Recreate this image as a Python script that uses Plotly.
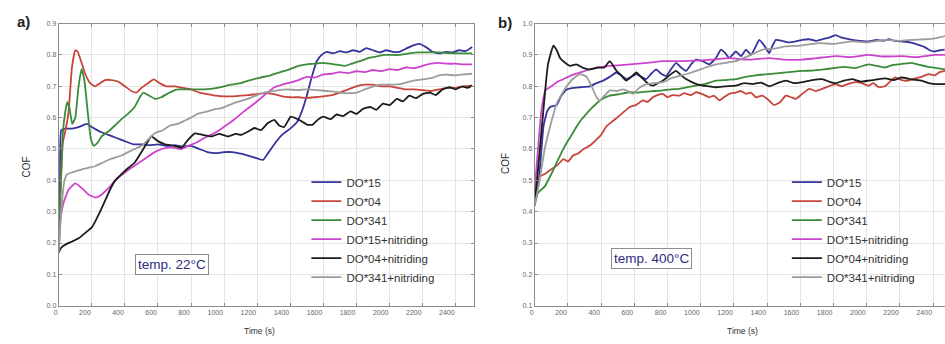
import plotly.graph_objects as go

W, H = 945, 344

# ---------------- Panel a) temp. 22°C ----------------
A_DO15_T = [0, 8, 15, 40, 80, 120, 170, 200, 250, 300, 350, 400, 450, 500, 550, 600, 650, 700, 750, 800, 850, 900, 950, 1000, 1050, 1100, 1150, 1200, 1235, 1270, 1310, 1350, 1400, 1440, 1470, 1500, 1530, 1560, 1590, 1620, 1660, 1700, 1740, 1780, 1820, 1860, 1900, 1940, 1980, 2020, 2060, 2100, 2140, 2180, 2220, 2260, 2300, 2340, 2380, 2420, 2460, 2500]
A_DO15_V = [0.17, 0.40, 0.56, 0.565, 0.565, 0.57, 0.58, 0.57, 0.555, 0.545, 0.535, 0.525, 0.515, 0.515, 0.512, 0.515, 0.51, 0.512, 0.508, 0.51, 0.50, 0.49, 0.487, 0.49, 0.49, 0.485, 0.478, 0.47, 0.465, 0.49, 0.52, 0.545, 0.565, 0.585, 0.62, 0.67, 0.73, 0.78, 0.80, 0.81, 0.805, 0.812, 0.808, 0.815, 0.81, 0.822, 0.815, 0.808, 0.815, 0.81, 0.81, 0.82, 0.83, 0.835, 0.825, 0.81, 0.805, 0.81, 0.808, 0.815, 0.812, 0.825]

A_DO04_T = [0, 10, 25, 45, 60, 80, 100, 115, 135, 160, 190, 220, 250, 280, 320, 360, 400, 440, 470, 500, 540, 575, 610, 650, 700, 750, 800, 850, 900, 950, 1000, 1050, 1100, 1150, 1200, 1250, 1300, 1350, 1400, 1450, 1500, 1550, 1600, 1650, 1700, 1750, 1800, 1850, 1900, 1950, 2000, 2050, 2100, 2150, 2200, 2250, 2300, 2350, 2400, 2450, 2500]
A_DO04_V = [0.17, 0.35, 0.52, 0.57, 0.62, 0.76, 0.815, 0.81, 0.78, 0.74, 0.71, 0.70, 0.71, 0.72, 0.72, 0.715, 0.70, 0.685, 0.68, 0.695, 0.71, 0.722, 0.71, 0.70, 0.70, 0.695, 0.69, 0.68, 0.675, 0.67, 0.668, 0.668, 0.67, 0.672, 0.675, 0.678, 0.675, 0.668, 0.665, 0.665, 0.663, 0.665, 0.668, 0.672, 0.68, 0.69, 0.70, 0.705, 0.705, 0.70, 0.70, 0.695, 0.69, 0.69, 0.688, 0.685, 0.69, 0.695, 0.695, 0.70, 0.702]

A_DO341_T = [0, 10, 25, 40, 52, 65, 82, 100, 120, 138, 155, 175, 195, 212, 235, 260, 300, 340, 380, 420, 460, 490, 511, 540, 583, 620, 670, 720, 800, 880, 960, 1040, 1100, 1160, 1220, 1280, 1340, 1400, 1450, 1500, 1550, 1590, 1640, 1690, 1730, 1770, 1820, 1870, 1920, 1970, 2010, 2060, 2120, 2180, 2240, 2300, 2360, 2420, 2500]
A_DO341_V = [0.17, 0.35, 0.55, 0.62, 0.65, 0.63, 0.58, 0.60, 0.70, 0.755, 0.72, 0.62, 0.53, 0.51, 0.52, 0.54, 0.556, 0.575, 0.595, 0.613, 0.635, 0.665, 0.68, 0.672, 0.66, 0.665, 0.68, 0.69, 0.69, 0.69, 0.695, 0.705, 0.71, 0.72, 0.728, 0.735, 0.745, 0.755, 0.765, 0.77, 0.772, 0.775, 0.772, 0.768, 0.765, 0.772, 0.78, 0.79, 0.795, 0.80, 0.80, 0.80, 0.805, 0.808, 0.808, 0.808, 0.806, 0.805, 0.805]

A_DO15N_T = [0, 10, 30, 60, 100, 140, 180, 222, 260, 300, 342, 400, 440, 482, 530, 580, 623, 680, 740, 783, 830, 880, 923, 970, 1020, 1063, 1120, 1183, 1240, 1303, 1350, 1400, 1450, 1500, 1550, 1600, 1650, 1700, 1750, 1800, 1850, 1900, 1950, 2000, 2050, 2100, 2150, 2200, 2250, 2300, 2350, 2400, 2450, 2500]
A_DO15N_V = [0.17, 0.27, 0.33, 0.37, 0.39, 0.375, 0.355, 0.345, 0.355, 0.375, 0.40, 0.425, 0.44, 0.455, 0.472, 0.49, 0.50, 0.505, 0.50, 0.51, 0.52, 0.535, 0.546, 0.56, 0.578, 0.595, 0.62, 0.645, 0.67, 0.697, 0.705, 0.712, 0.72, 0.73, 0.728, 0.738, 0.74, 0.745, 0.742, 0.748, 0.745, 0.752, 0.748, 0.755, 0.752, 0.76, 0.758, 0.765, 0.772, 0.775, 0.772, 0.772, 0.77, 0.77]

A_DO04N_T = [0, 15, 40, 82, 120, 162, 200, 222, 250, 282, 310, 342, 380, 422, 460, 500, 540, 560, 600, 643, 700, 743, 783, 823, 870, 923, 970, 1023, 1070, 1103, 1143, 1183, 1223, 1263, 1303, 1333, 1363, 1403, 1433, 1463, 1500, 1533, 1570, 1600, 1644, 1680, 1720, 1764, 1800, 1840, 1884, 1920, 1960, 2000, 2044, 2080, 2120, 2160, 2200, 2244, 2280, 2320, 2364, 2400, 2440, 2470, 2500]
A_DO04N_V = [0.17, 0.185, 0.195, 0.205, 0.215, 0.233, 0.25, 0.27, 0.30, 0.337, 0.37, 0.40, 0.42, 0.44, 0.457, 0.49, 0.525, 0.54, 0.525, 0.515, 0.51, 0.504, 0.53, 0.55, 0.545, 0.54, 0.548, 0.54, 0.548, 0.545, 0.555, 0.567, 0.56, 0.582, 0.593, 0.575, 0.57, 0.603, 0.598, 0.59, 0.578, 0.577, 0.595, 0.603, 0.595, 0.61, 0.605, 0.62, 0.612, 0.628, 0.634, 0.625, 0.645, 0.64, 0.66, 0.652, 0.67, 0.662, 0.675, 0.68, 0.672, 0.69, 0.697, 0.69, 0.70, 0.695, 0.702]

A_DO341N_T = [0, 15, 35, 52, 80, 110, 140, 180, 220, 260, 300, 342, 383, 420, 460, 500, 540, 583, 630, 673, 720, 760, 800, 843, 900, 950, 983, 1030, 1080, 1143, 1200, 1243, 1283, 1323, 1380, 1440, 1500, 1560, 1620, 1680, 1740, 1802, 1850, 1904, 1950, 2000, 2064, 2100, 2144, 2200, 2264, 2300, 2344, 2400, 2450, 2500]
A_DO341N_V = [0.17, 0.30, 0.40, 0.42, 0.425, 0.43, 0.435, 0.44, 0.445, 0.455, 0.465, 0.473, 0.48, 0.49, 0.50, 0.51, 0.53, 0.551, 0.56, 0.575, 0.58, 0.59, 0.60, 0.613, 0.62, 0.628, 0.63, 0.64, 0.65, 0.66, 0.672, 0.68, 0.684, 0.687, 0.69, 0.688, 0.69, 0.688, 0.685, 0.682, 0.678, 0.68, 0.69, 0.70, 0.705, 0.705, 0.707, 0.712, 0.718, 0.722, 0.728, 0.735, 0.737, 0.735, 0.738, 0.74]

# ---------------- Panel b) temp. 400°C ----------------
B_DO15_T = [0, 25, 53, 75, 93, 133, 160, 193, 233, 273, 333, 372, 412, 452, 492, 522, 552, 582, 612, 642, 672, 702, 732, 762, 792, 822, 852, 882, 912, 942, 972, 1012, 1052, 1092, 1122, 1150, 1172, 1212, 1243, 1273, 1303, 1330, 1353, 1383, 1413, 1433, 1453, 1490, 1530, 1573, 1613, 1653, 1693, 1733, 1773, 1812, 1850, 1913, 1960, 2013, 2060, 2100, 2133, 2170, 2212, 2260, 2312, 2350, 2380, 2412, 2440, 2470]
B_DO15_V = [0.43, 0.5, 0.672, 0.72, 0.734, 0.74, 0.77, 0.79, 0.795, 0.797, 0.80, 0.81, 0.818, 0.83, 0.844, 0.835, 0.823, 0.83, 0.839, 0.83, 0.823, 0.84, 0.854, 0.84, 0.833, 0.855, 0.875, 0.86, 0.849, 0.87, 0.885, 0.88, 0.87, 0.89, 0.917, 0.905, 0.89, 0.911, 0.896, 0.917, 0.90, 0.925, 0.948, 0.93, 0.906, 0.93, 0.948, 0.945, 0.94, 0.943, 0.948, 0.95, 0.945, 0.95, 0.955, 0.963, 0.955, 0.948, 0.945, 0.943, 0.948, 0.945, 0.95, 0.945, 0.943, 0.94, 0.932, 0.925, 0.915, 0.911, 0.915, 0.917]

B_DO04_T = [0, 10, 25, 60, 100, 140, 173, 200, 233, 260, 292, 330, 372, 400, 432, 460, 492, 530, 572, 610, 652, 680, 712, 740, 772, 800, 830, 872, 900, 940, 972, 1010, 1052, 1080, 1112, 1140, 1172, 1212, 1243, 1273, 1303, 1333, 1370, 1400, 1443, 1480, 1513, 1545, 1573, 1610, 1653, 1693, 1733, 1770, 1812, 1850, 1890, 1933, 1970, 2013, 2040, 2073, 2110, 2140, 2172, 2210, 2252, 2290, 2330, 2372, 2410, 2440, 2472]
B_DO04_V = [0.44, 0.49, 0.51, 0.52, 0.535, 0.55, 0.568, 0.56, 0.58, 0.585, 0.599, 0.61, 0.63, 0.645, 0.672, 0.685, 0.698, 0.715, 0.734, 0.74, 0.755, 0.75, 0.765, 0.772, 0.776, 0.765, 0.772, 0.77, 0.778, 0.772, 0.781, 0.775, 0.765, 0.77, 0.755, 0.765, 0.776, 0.78, 0.785, 0.776, 0.78, 0.765, 0.77, 0.76, 0.74, 0.75, 0.77, 0.765, 0.76, 0.775, 0.792, 0.785, 0.792, 0.80, 0.807, 0.80, 0.808, 0.813, 0.81, 0.802, 0.81, 0.797, 0.80, 0.815, 0.828, 0.82, 0.818, 0.825, 0.83, 0.839, 0.835, 0.845, 0.849]

B_DO341_T = [0, 20, 60, 100, 133, 163, 193, 223, 253, 283, 313, 343, 372, 410, 452, 510, 572, 620, 672, 720, 772, 820, 872, 920, 972, 1030, 1092, 1150, 1212, 1270, 1330, 1413, 1470, 1530, 1613, 1670, 1730, 1812, 1870, 1930, 2013, 2060, 2110, 2160, 2220, 2273, 2320, 2370, 2412, 2472]
B_DO341_V = [0.42, 0.46, 0.48, 0.52, 0.557, 0.59, 0.62, 0.645, 0.672, 0.695, 0.713, 0.73, 0.745, 0.76, 0.77, 0.775, 0.781, 0.78, 0.783, 0.785, 0.787, 0.79, 0.792, 0.797, 0.802, 0.808, 0.818, 0.82, 0.823, 0.83, 0.835, 0.839, 0.842, 0.845, 0.849, 0.85, 0.853, 0.859, 0.862, 0.858, 0.87, 0.865, 0.86, 0.868, 0.872, 0.875, 0.868, 0.862, 0.859, 0.854]

B_DO15N_T = [0, 20, 40, 65, 100, 140, 173, 220, 273, 320, 372, 450, 572, 680, 772, 870, 972, 1070, 1171, 1213, 1300, 1413, 1500, 1613, 1700, 1812, 1900, 2012, 2100, 2212, 2300, 2412, 2472]
B_DO15N_V = [0.47, 0.6, 0.72, 0.787, 0.80, 0.815, 0.823, 0.835, 0.844, 0.852, 0.859, 0.865, 0.87, 0.875, 0.88, 0.88, 0.882, 0.885, 0.89, 0.888, 0.885, 0.89, 0.885, 0.885, 0.89, 0.896, 0.893, 0.90, 0.895, 0.896, 0.893, 0.90, 0.90]

B_DO04N_T = [0, 40, 80, 113, 133, 153, 183, 213, 250, 292, 333, 380, 420, 452, 492, 520, 552, 582, 612, 650, 680, 712, 742, 772, 812, 852, 882, 912, 960, 1011, 1050, 1092, 1150, 1211, 1263, 1313, 1363, 1413, 1463, 1513, 1563, 1613, 1673, 1733, 1773, 1813, 1863, 1913, 1963, 2013, 2063, 2113, 2163, 2212, 2272, 2332, 2372, 2412, 2472]
B_DO04N_V = [0.42, 0.65, 0.87, 0.93, 0.915, 0.89, 0.875, 0.865, 0.87, 0.859, 0.854, 0.86, 0.86, 0.88, 0.85, 0.835, 0.818, 0.83, 0.844, 0.825, 0.81, 0.802, 0.81, 0.818, 0.835, 0.849, 0.835, 0.823, 0.81, 0.802, 0.80, 0.797, 0.80, 0.802, 0.81, 0.807, 0.812, 0.80, 0.81, 0.818, 0.81, 0.813, 0.82, 0.823, 0.815, 0.81, 0.818, 0.823, 0.815, 0.818, 0.822, 0.825, 0.82, 0.828, 0.822, 0.818, 0.81, 0.807, 0.807]

B_DO341N_T = [0, 30, 60, 93, 133, 163, 193, 233, 273, 313, 343, 372, 392, 420, 452, 492, 532, 562, 592, 630, 672, 720, 772, 820, 872, 920, 972, 1030, 1092, 1150, 1212, 1280, 1373, 1440, 1513, 1600, 1713, 1800, 1913, 2000, 2113, 2200, 2273, 2350, 2412, 2472]
B_DO341N_V = [0.42, 0.5, 0.6, 0.672, 0.745, 0.775, 0.80, 0.825, 0.839, 0.83, 0.80, 0.766, 0.755, 0.77, 0.787, 0.785, 0.79, 0.785, 0.776, 0.795, 0.807, 0.81, 0.813, 0.825, 0.833, 0.84, 0.849, 0.86, 0.87, 0.875, 0.88, 0.895, 0.917, 0.92, 0.927, 0.93, 0.938, 0.935, 0.943, 0.94, 0.948, 0.945, 0.948, 0.95, 0.953, 0.96]

NAMES = ["DO*15", "DO*04", "DO*341", "DO*15+nitriding", "DO*04+nitriding", "DO*341+nitriding"]
COLORS = ["#34349c", "#c8453c", "#3a8c3a", "#cc44cc", "#1c1c1c", "#9c9c9c"]
X_TICKS = [0, 200, 400, 600, 800, 1000, 1200, 1400, 1600, 1800, 2000, 2200, 2400]
A_Y_TICKS = [0.0, 0.1, 0.2, 0.3, 0.4, 0.5, 0.6, 0.7, 0.8, 0.9]
B_Y_TICKS = [0.1, 0.2, 0.3, 0.4, 0.5, 0.6, 0.7, 0.8, 0.9, 1.0]

A_SERIES = [(A_DO15_T, A_DO15_V), (A_DO04_T, A_DO04_V), (A_DO341_T, A_DO341_V),
            (A_DO15N_T, A_DO15N_V), (A_DO04N_T, A_DO04N_V), (A_DO341N_T, A_DO341N_V)]
B_SERIES = [(B_DO15_T, B_DO15_V), (B_DO04_T, B_DO04_V), (B_DO341_T, B_DO341_V),
            (B_DO15N_T, B_DO15N_V), (B_DO04N_T, B_DO04N_V), (B_DO341N_T, B_DO341N_V)]

fig = go.Figure()
for i, (t, v) in enumerate(A_SERIES):
    fig.add_trace(go.Scatter(x=t, y=v, mode="lines", name=NAMES[i], xaxis="x", yaxis="y",
                             line=dict(color=COLORS[i], width=1.8, shape="spline", smoothing=0.4),
                             legend="legend"))
for i, (t, v) in enumerate(B_SERIES):
    fig.add_trace(go.Scatter(x=t, y=v, mode="lines", name=NAMES[i], xaxis="x2", yaxis="y2",
                             line=dict(color=COLORS[i], width=1.8, shape="spline", smoothing=0.4),
                             legend="legend2"))

FONT = "Arial, Liberation Sans, sans-serif"
ydom = [1 - 308 / H, 1 - 20 / H]
axis_common = dict(showgrid=True, gridcolor="#e4e4e4", gridwidth=1, showline=True,
                   linecolor="#8c8c8c", linewidth=1, ticks="inside", ticklen=3,
                   tickcolor="#8c8c8c", tickfont=dict(family=FONT, size=7, color="#666666"),
                   zeroline=False)

legend_common = dict(xanchor="left", yanchor="top", bgcolor="rgba(0,0,0,0)",
                     font=dict(family=FONT, size=11.5, color="#333333"), itemwidth=30)

fig.update_layout(
    width=W, height=H, margin=dict(l=0, r=0, t=0, b=0),
    paper_bgcolor="white", plot_bgcolor="white",
    xaxis=dict(domain=[54 / W, 471 / W], range=[0, 2508], tickvals=X_TICKS,
               mirror="ticks", anchor="y", ticklabelposition="outside left", **axis_common),
    yaxis=dict(domain=ydom, range=[0, 0.9], tickvals=A_Y_TICKS, tickformat=".1f",
               mirror="ticks", anchor="x", **axis_common),
    xaxis2=dict(domain=[532.5 / W, 1.0], range=[0, 2472], tickvals=X_TICKS,
                mirror="ticks", anchor="y2", ticklabelposition="outside left", **axis_common),
    yaxis2=dict(domain=ydom, range=[0.1, 1.0], tickvals=B_Y_TICKS, tickformat=".1f",
                anchor="x2", **axis_common),
    legend=dict(x=303 / W, y=1 - 167 / H, **legend_common),
    legend2=dict(x=786 / W, y=1 - 167 / H, **legend_common),
)

def ann(text, x, y, size, color="#222222", bold=False, angle=0, **kw):
    fig.add_annotation(text=("<b>%s</b>" % text) if bold else text, x=x / W, y=1 - y / H,
                       xref="paper", yref="paper", showarrow=False, textangle=angle,
                       font=dict(family=FONT, size=size, color=color),
                       xanchor="center", yanchor="middle", **kw)

ann("a)", 19, 18, 15, bold=True)
ann("b)", 503, 19, 15, bold=True)
ann("COF", 22, 166, 10, color="#333333", angle=-90)
ann("COF", 503, 163, 10, color="#333333", angle=-90)
ann("Time (s)", 256, 334, 8.5, color="#333333")
ann("Time (s)", 741, 334, 8.5, color="#333333")
ann("temp. 22°C", 167.5, 266, 13.5, color="#2d2d7a", bordercolor="#8c8c8c", borderwidth=1,
    borderpad=2, bgcolor="white")
ann("temp. 400°C", 650, 260, 13.5, color="#2d2d7a", bordercolor="#8c8c8c", borderwidth=1,
    borderpad=2, bgcolor="white")

fig.write_html("out.html")
